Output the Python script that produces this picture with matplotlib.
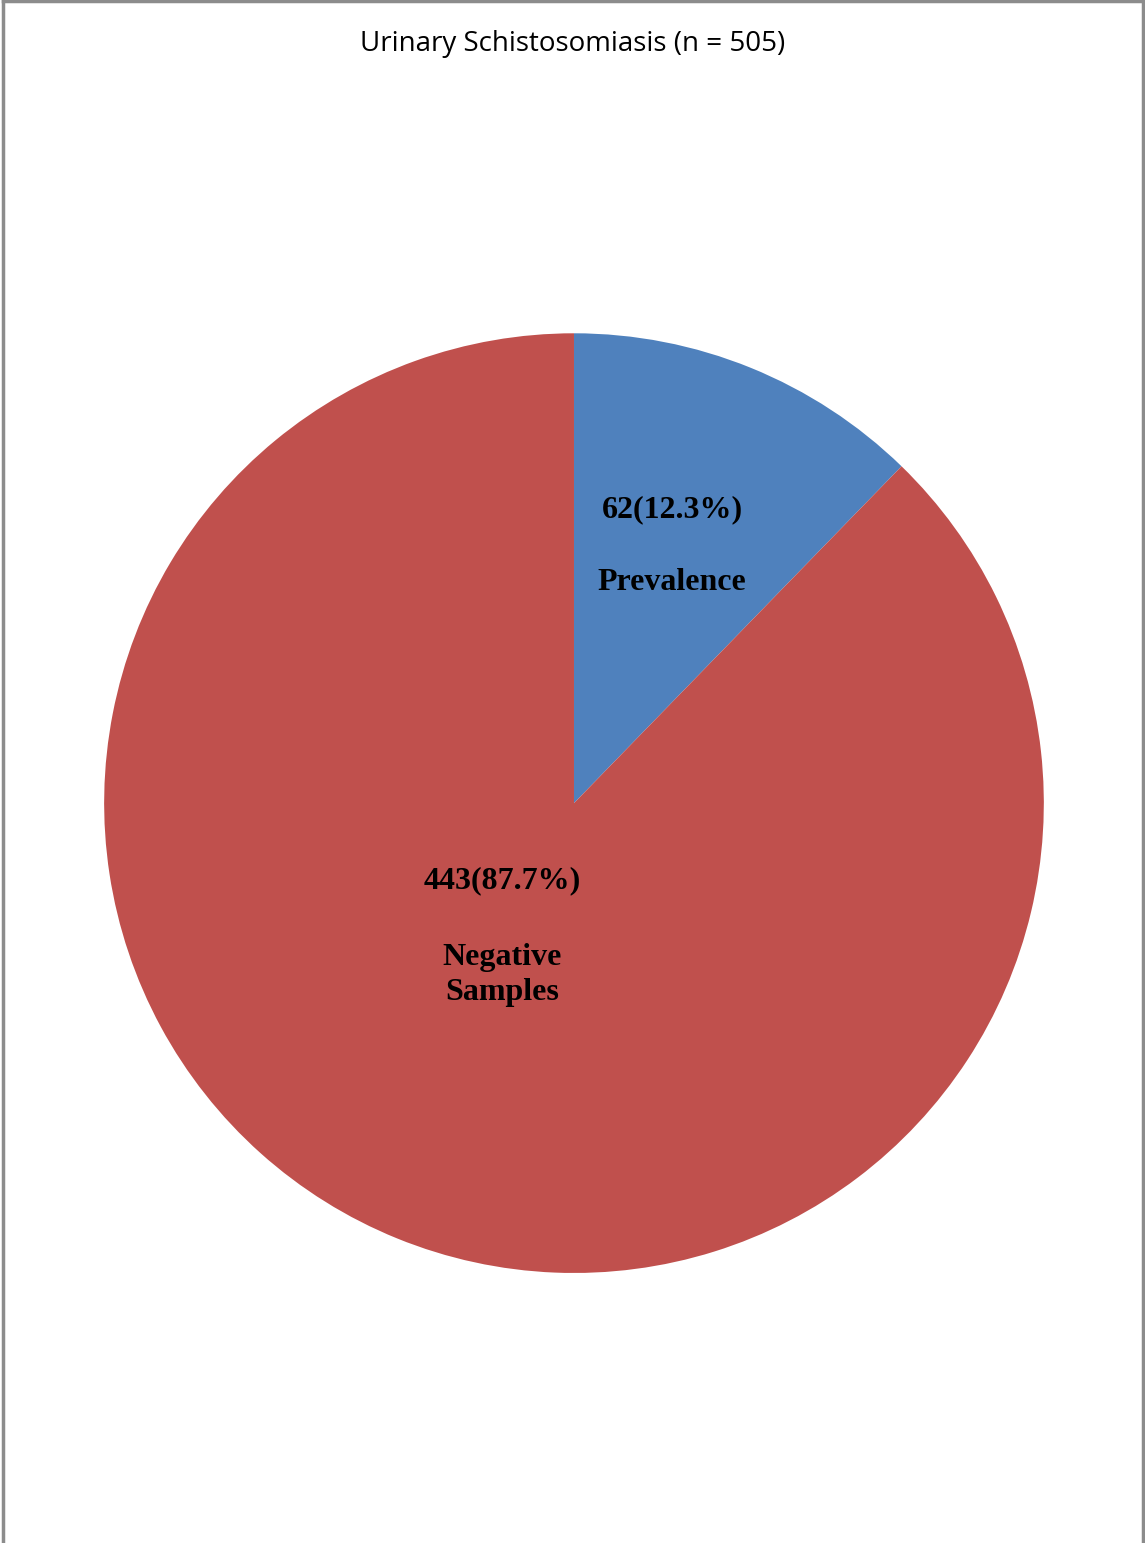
import matplotlib.pyplot as plt

categories = ["Prevalence", "Negative\nSamples"]
counts = [62, 443]
percents = [12.3, 87.7]
colors = ["#4F81BD", "#C0504D"]
title = "Urinary Schistosomiasis (n = 505)"

fig = plt.figure(figsize=(11.45, 15.43), dpi=100)

# frame around the chart area (no bottom edge visible in the reference)
border = "#8c8c8c"
fig.add_artist(plt.Line2D([0.003, 0.003], [0, 0.9995], color=border, lw=2.5, transform=fig.transFigure))
fig.add_artist(plt.Line2D([0.003, 0.9985], [0.9995, 0.9995], color=border, lw=2.5, transform=fig.transFigure))
fig.add_artist(plt.Line2D([0.9985, 0.9985], [0, 0.9995], color=border, lw=2.5, transform=fig.transFigure))

fig.text(0.5, 0.9715, title, ha="center", va="center", fontsize=20,
         family=["Open Sans", "DejaVu Sans"])

ax = fig.add_axes([0.0908, 0.175, 0.821, 0.609])
ax.pie(counts, colors=colors, startangle=90, counterclock=False, radius=1.0)
ax.set_xlim(-1, 1)
ax.set_ylim(-1, 1)
ax.set_aspect("equal")
ax.axis("off")

# hand placed labels, like the original
label_pos = [(0.209, 0.625, 0.469), (-0.153, -0.165, -0.366)]
for i in range(len(counts)):
    x, y1, y2 = label_pos[i]
    ax.text(x, y1, "%d(%.1f%%)" % (counts[i], percents[i]), ha="center", va="center",
            fontsize=23, fontweight="bold", family="Liberation Serif")
    ax.text(x, y2, categories[i], ha="center", va="center", linespacing=1.3,
            fontsize=23, fontweight="bold", family="Liberation Serif")

fig.savefig("out.png", dpi=100)
